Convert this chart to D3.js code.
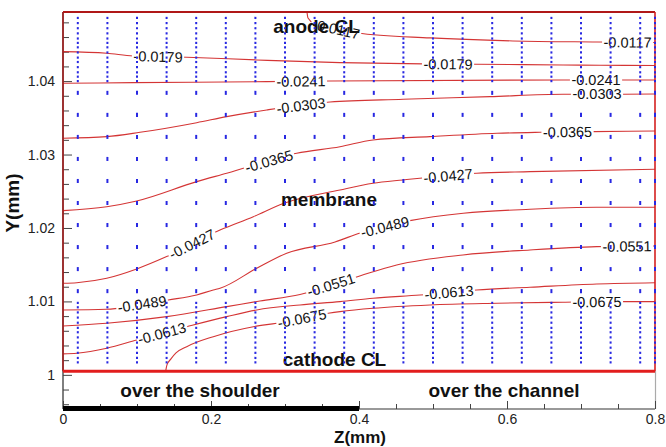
<!DOCTYPE html>
<html>
<head>
<meta charset="utf-8">
<script src="https://cdn.jsdelivr.net/npm/d3@7"></script>
<style>
  html, body { margin: 0; padding: 0; background: #fff; }
  svg { display: block; font-family: "Liberation Sans", Arial, sans-serif; }
</style>
</head>
<body>
<svg id="chart" width="666" height="447"></svg>
<script>
// ---- contour levels of the potential field and their traced iso-lines (z, y in mm) ----
const levels = [-0.0117, -0.0179, -0.0241, -0.0303, -0.0365, -0.0427, -0.0489, -0.0551, -0.0613, -0.0675];

const line0117 = [[0.3297,1.0494],[0.3311,1.0486],[0.3405,1.04778],[0.3608,1.04724],[0.3973,1.04656],[0.4959,1.04588],[0.6081,1.04547],[0.7216,1.04533],[0.8,1.04526]];
const line0179 = [[0,1.04401],[0.0591,1.04379],[0.0946,1.04342],[0.1672,1.04325],[0.2618,1.04288],[0.3743,1.04251],[0.4865,1.04234],[0.5591,1.0423],[0.6757,1.0422],[0.7257,1.04216],[0.8,1.04213]];
const line0241 = [[0,1.03971],[0.0946,1.03979],[0.2753,1.03993],[0.3608,1.04002],[0.6757,1.04016],[0.8,1.04016]];
const line0303 = [[0,1.03222],[0.0591,1.03244],[0.1041,1.03303],[0.1807,1.03434],[0.2212,1.03516],[0.2753,1.03607],[0.3608,1.03716],[0.4595,1.03753],[0.577,1.03788],[0.6757,1.03821],[0.7568,1.03821],[0.8,1.03825]];
const line0365 = [[0,1.02236],[0.0591,1.0229],[0.0996,1.02368],[0.1807,1.02631],[0.2212,1.02745],[0.3158,1.03018],[0.3743,1.03107],[0.4189,1.03199],[0.4959,1.03244],[0.5865,1.0329],[0.6446,1.03303],[0.7162,1.03312],[0.8,1.03321]];
const line0427 = [[0,1.01247],[0.0186,1.01255],[0.0591,1.01315],[0.0996,1.01442],[0.1401,1.0161],[0.2122,1.01973],[0.2572,1.02154],[0.2977,1.02334],[0.3743,1.02518],[0.4189,1.02609],[0.4595,1.02654],[0.559,1.02745],[0.6311,1.02767],[0.8,1.028]];
const line0489 = [[0,1.00884],[0.0591,1.00893],[0.1423,1.0102],[0.1807,1.01088],[0.2031,1.01156],[0.2122,1.01179],[0.2618,1.01452],[0.3023,1.01656],[0.3676,1.0181],[0.4014,1.01932],[0.4689,1.021],[0.5409,1.022],[0.6311,1.02255],[0.7212,1.02282],[0.8,1.02282]];
const line0551 = [[0,1.00666],[0.0591,1.00703],[0.1401,1.00793],[0.2212,1.00929],[0.2662,1.01006],[0.3203,1.01095],[0.3946,1.01326],[0.4509,1.01497],[0.5405,1.01633],[0.6311,1.01701],[0.7212,1.01746],[0.8,1.01755]];
const line0613 = [[0,1.00285],[0.0186,1.00294],[0.0591,1.00362],[0.0996,1.00475],[0.1672,1.00656],[0.2212,1.00793],[0.2618,1.00884],[0.3203,1.00952],[0.3743,1.00997],[0.4189,1.01043],[0.4824,1.01088],[0.559,1.01156],[0.6311,1.01193],[0.7212,1.01238],[0.8,1.01255]];
const line0675 = [[0.1388,1.00053],[0.1405,1.00135],[0.1459,1.00217],[0.1527,1.00298],[0.1672,1.00384],[0.2031,1.0052],[0.2572,1.00656],[0.2888,1.00703],[0.3585,1.00839],[0.3743,1.00861],[0.4189,1.00907],[0.4959,1.00952],[0.5865,1.00975],[0.6757,1.00989],[0.7568,1.00997],[0.8,1.00997]];

// z positions (mm) where each level is labelled along its line
const labelZ = [[0.369,0.763],[0.1284,0.5203],[0.3216,0.7203],[0.3216,0.7216],[0.2784,0.6818],[0.1743,0.5203],[0.1068,0.4351],[0.3622,0.7622],[0.1338,0.5216],[0.3230,0.7216]];

// ---- water-flux vector grid ----
const vecColumnsZ = [0.02,0.06,0.10,0.14,0.18,0.22,0.26,0.30,0.34,0.38,0.42,0.46,0.50,0.54,0.58,0.62,0.66,0.70,0.74,0.78,0.80];
const anodeRowsY = [1.0486,1.0479,1.0472,1.0465,1.0458,1.0452,1.0446,1.0439,1.0432,1.0426,1.0419,1.0412,1.0406,1.0400];
const membraneRowsY = [1.0384,1.0354,1.0324,1.0294,1.0264,1.0234,1.0204,1.0174,1.0144,1.0114];
const cathodeRowsY = [1.0098,1.0092,1.0085,1.0078,1.0071,1.0064,1.0058,1.0051,1.0044,1.0037,1.0030,1.0023,1.0017];

// ---- axes ----
const xTickValues = [0, 0.2, 0.4, 0.6, 0.8];
const xTickLabels = ["0", "0.2", "0.4", "0.6", "0.8"];
const yTickValues = [1, 1.01, 1.02, 1.03, 1.04];
const yTickLabels = ["1", "1.01", "1.02", "1.03", "1.04"];

// geometry of the cell
const shoulderZ = [0, 0.4];
const cathodeBaseY = 1.0005;

const contourLines = [line0117, line0179, line0241, line0303, line0365, line0427, line0489, line0551, line0613, line0675];

const svg = d3.select("#chart");
const x = d3.scaleLinear().domain([0, 0.8]).range([63, 655]);
const y = d3.scaleLinear().domain([0.99535, 1.04941]).range([409, 12]);
const yTop = y.domain()[1];

// axis lines
svg.append("line").attr("x1", x(0)).attr("x2", x(0)).attr("y1", y(yTop)).attr("y2", y.range()[0])
  .attr("stroke", "#555").attr("stroke-width", 1.5);
svg.append("line").attr("x1", x(0)).attr("x2", x(0.8)).attr("y1", y.range()[0]).attr("y2", y.range()[0])
  .attr("stroke", "#777").attr("stroke-width", 1.5);
svg.append("line").attr("x1", x(0.8) + 0.5).attr("x2", x(0.8) + 0.5).attr("y1", y(cathodeBaseY)).attr("y2", y.range()[0])
  .attr("stroke", "#aaa").attr("stroke-width", 1.2);

const yMinor = d3.range(0.996, 1.0485, 0.002).filter(v => Math.round(v * 1000) % 10 !== 0);
const xMinor = d3.range(0, 0.801, 0.05).filter(v => Math.round(v * 100) % 20 !== 0);

function styleAxis(g) {
  g.select(".domain").remove();
  g.selectAll(".tick line").attr("stroke", "#444");
  g.selectAll(".tick text").attr("fill", "#222").attr("font-size", 14)
    .attr("font-family", "'Liberation Sans', Arial, sans-serif");
}

svg.append("g").attr("transform", `translate(${x(0)},0)`)
  .call(d3.axisLeft(y).tickValues(yMinor).tickFormat("").tickSize(-6))
  .call(styleAxis);
svg.append("g").attr("transform", `translate(${x(0)},0)`)
  .call(d3.axisLeft(y).tickValues(yTickValues).tickFormat((d, i) => yTickLabels[i]).tickSize(-9).tickPadding(8))
  .call(styleAxis);
svg.append("g").attr("transform", `translate(0,${y.range()[0]})`)
  .call(d3.axisBottom(x).tickValues(xMinor).tickFormat("").tickSize(-5))
  .call(styleAxis);
svg.append("g").attr("transform", `translate(0,${y.range()[0]})`)
  .call(d3.axisBottom(x).tickValues(xTickValues).tickFormat((d, i) => xTickLabels[i]).tickSize(-8).tickPadding(5.5))
  .call(styleAxis);

// land (shoulder) bar along the bottom axis
svg.append("line").attr("x1", x(shoulderZ[0])).attr("x2", x(shoulderZ[1]))
  .attr("y1", y.range()[0] - 0.5).attr("y2", y.range()[0] - 0.5)
  .attr("stroke", "#000").attr("stroke-width", 5);

// axis titles
svg.append("text").attr("x", 360).attr("y", 442.5).attr("text-anchor", "middle")
  .attr("font-size", 17).attr("font-weight", "bold").attr("fill", "#111").text("Z(mm)");
svg.append("text").attr("transform", "translate(19,203) rotate(-90)").attr("text-anchor", "middle")
  .attr("font-size", 19).attr("font-weight", "bold").attr("fill", "#111").text("Y(mm)");

// contour lines
const lineGen = d3.line().x(d => x(d[0])).y(d => y(d[1])).curve(d3.curveMonotoneX);
const gLines = svg.append("g");
contourLines.forEach(pts => {
  gLines.append("path").attr("d", lineGen(pts)).attr("fill", "none")
    .attr("stroke", "#d43535").attr("stroke-width", 1.1);
});

// contour labels, sitting on their line and following its slope
function yAt(pts, z) {
  if (z <= pts[0][0]) return pts[0][1];
  for (let i = 1; i < pts.length; i++) {
    if (z <= pts[i][0]) {
      const t = (z - pts[i - 1][0]) / (pts[i][0] - pts[i - 1][0]);
      return pts[i - 1][1] + t * (pts[i][1] - pts[i - 1][1]);
    }
  }
  return pts[pts.length - 1][1];
}
const gLabels = svg.append("g");
levels.forEach((lev, k) => {
  const pts = contourLines[k];
  labelZ[k].forEach(z => {
    const dz = 0.03;
    const za = Math.max(pts[0][0], z - dz), zb = Math.min(0.8, z + dz);
    const ang = Math.atan2(y(yAt(pts, zb)) - y(yAt(pts, za)), x(zb) - x(za)) * 180 / Math.PI;
    const g = gLabels.append("g")
      .attr("transform", `translate(${x(z)},${y(yAt(pts, z))}) rotate(${ang})`);
    const bg = g.append("rect").attr("fill", "#fff");
    const t = g.append("text").attr("text-anchor", "middle").attr("dy", "0.36em")
      .attr("font-size", 14.5).attr("fill", "#111").text(lev.toFixed(4));
    const w = t.node().getComputedTextLength() + 3;
    bg.attr("x", -w / 2).attr("y", -6).attr("width", w).attr("height", 12);
  });
});

// domain frame
const fx0 = x(0), fx1 = x(0.8), fy0 = y(yTop), fy1 = y(cathodeBaseY);
svg.append("line").attr("x1", fx0).attr("x2", fx1).attr("y1", fy0).attr("y2", fy0).attr("stroke", "#b01818").attr("stroke-width", 2);
svg.append("line").attr("x1", fx0).attr("x2", fx0).attr("y1", fy0).attr("y2", fy1).attr("stroke", "#a52020").attr("stroke-width", 1.6);
svg.append("line").attr("x1", fx1).attr("x2", fx1).attr("y1", fy0).attr("y2", fy1).attr("stroke", "#d42020").attr("stroke-width", 1.6);
svg.append("line").attr("x1", fx0).attr("x2", fx1).attr("y1", fy1).attr("y2", fy1).attr("stroke", "#e21d1d").attr("stroke-width", 3);

// region captions
const captions = [
  ["anode CL", 316.5, 33], ["membrane", 329, 206], ["cathode CL", 334.5, 366],
  ["over the shoulder", 200, 397], ["over the channel", 504, 397]
];
captions.forEach(([txt, cx, cy]) => {
  svg.append("text").attr("x", cx).attr("y", cy).attr("text-anchor", "middle")
    .attr("font-size", 19).attr("font-weight", "bold").attr("fill", "#111").text(txt);
});

// flux vectors (short downward marks at each grid node)
const gVec = svg.append("g").attr("stroke", "#2828e2").attr("stroke-width", 2);
function drawRows(rows, len) {
  vecColumnsZ.forEach(z => {
    rows.forEach(r => {
      gVec.append("line").attr("x1", x(z)).attr("x2", x(z))
        .attr("y1", y(r + len / 2)).attr("y2", y(r - len / 2));
    });
  });
}
drawRows(anodeRowsY, 0.0003);
drawRows(membraneRowsY, 0.00055);
drawRows(cathodeRowsY, 0.0003);
</script>
</body>
</html>
